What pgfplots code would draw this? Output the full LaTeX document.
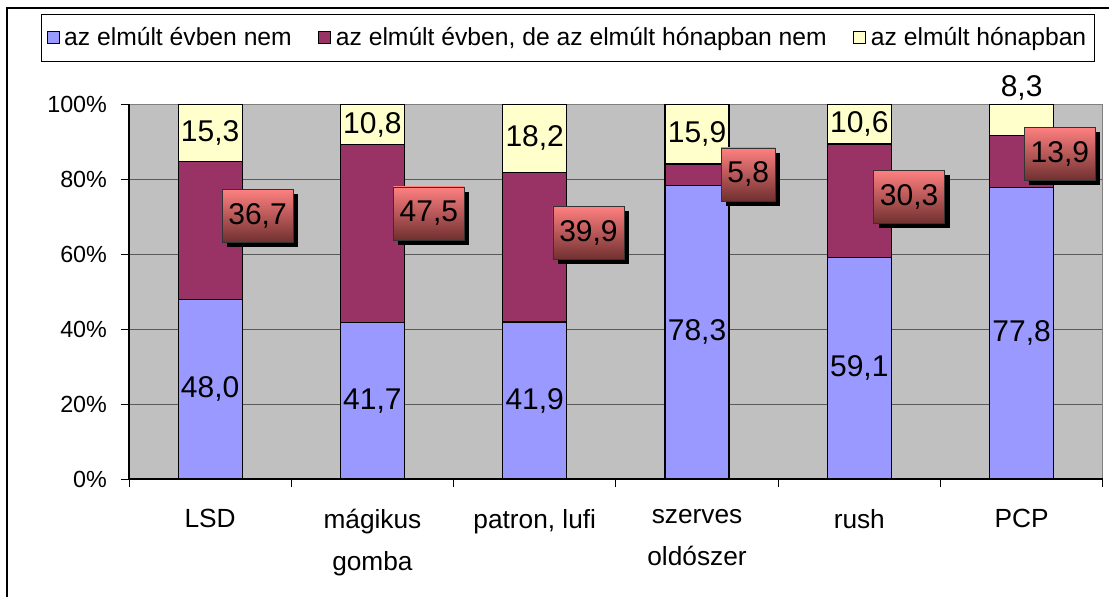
\documentclass[border=0pt]{standalone}
\usepackage{fontspec}
\setmainfont{Liberation Sans}
\usepackage{pgfplots}
\usepackage{pgfplotstable}
\pgfplotsset{compat=1.18}
\usetikzlibrary{shadows}
\definecolor{cblue}{RGB}{153,153,255}
\definecolor{cred}{RGB}{153,51,102}
\definecolor{cyel}{RGB}{255,255,204}
\definecolor{cgray}{RGB}{192,192,192}
\definecolor{cgrid}{RGB}{90,90,90}
\definecolor{cborder}{RGB}{128,128,128}
\definecolor{lbtop}{RGB}{255,128,128}
\definecolor{lbbot}{RGB}{112,48,48}
\pgfplotsset{sqleg/.style={legend image code/.code={\draw[##1, draw=black, line width=0.6pt] (0pt,-4.5pt) rectangle (9pt,4.5pt);}}}

\pgfplotstableread{
x blue red yellow lb lr ly yb xr yr yy
0 48.0 36.7 15.3 48,0 36,7 15,3 24.00 0.292 70.3 92.35
1 41.7 47.5 10.8 41,7 47,5 10,8 20.85 1.348 70.9 94.60
2 41.9 39.9 18.2 41,9 39,9 18,2 20.95 2.331 65.7 90.90
3 78.3 5.8 15.9 78,3 5,8 15,9 39.15 3.316 81.3 92.05
4 59.1 30.3 10.6 59,1 30,3 10,6 29.55 4.307 75.3 94.70
5 77.8 13.9 8.3 77,8 13,9 8,3 38.90 5.236 86.8 104.3
}\data

\begin{document}
\begin{tikzpicture}
\useasboundingbox (0,0) rectangle (831.75pt,447.75pt);
\draw[line width=1.2pt] (5.25pt,0pt) -- (5.25pt,441.75pt) -- (831.75pt,441.75pt);
\begin{axis}[
  at={(96.75pt,88.5pt)}, anchor=south west,
  scale only axis, width=730.3pt, height=281pt,
  xmin=-0.5, xmax=5.5, ymin=0, ymax=100,
  ybar stacked, bar width=48pt,
  axis background/.style={fill=cgray},
  axis line style={cborder, line width=0.6pt},
  ymajorgrids, grid style={cgrid, line width=0.6pt},
  xtick={-0.5,0.5,...,5.5},
  x tick label as interval,
  xticklabels={LSD,{mágikus\\gomba},{patron, lufi},{szerves\\oldószer},rush,PCP},
  ytick={0,20,40,60,80,100},
  yticklabels={0\%,20\%,40\%,60\%,80\%,100\%},
  tick align=outside, xtick pos=bottom, ytick pos=left,
  major tick length=6pt,
  tick style={black, line width=0.6pt},
  xticklabel style={font=\fontsize{19.7}{31.5}\selectfont, align=center, yshift=-13pt},
  yticklabel style={font=\fontsize{17.5}{21}\selectfont, xshift=-7pt},
  legend columns=3,
  legend cell align=left,
  legend style={at={(-0.0904,1.241)}, anchor=north west, draw=black, line width=0.6pt,
    font=\fontsize{18.5}{22}\selectfont, inner xsep=4pt, inner ysep=8pt,
    /tikz/every odd column/.append style={column sep=1.5pt},
    /tikz/every even column/.append style={column sep=18pt}},
  after end axis/.code={\draw[black, line width=0.8pt] (rel axis cs:0,1) -- (rel axis cs:0,0) -- (rel axis cs:1,0);},
]
\addplot[fill=cblue, draw=black, line width=0.9pt, sqleg] table[x=x,y=blue]{\data};
\addlegendentry{az elmúlt évben nem}
\addplot[fill=cred, draw=black, line width=0.9pt, sqleg] table[x=x,y=red]{\data};
\addlegendentry{az elmúlt évben, de az elmúlt hónapban nem}
\addplot[fill=cyel, draw=black, line width=0.9pt, sqleg] table[x=x,y=yellow]{\data};
\addlegendentry{az elmúlt hónapban}
\end{axis}
\begin{axis}[
  at={(96.75pt,88.5pt)}, anchor=south west,
  scale only axis, width=730.3pt, height=281pt,
  xmin=-0.5, xmax=5.5, ymin=0, ymax=100,
  hide axis, clip=false,
]
\addplot[draw=none, nodes near coords, point meta=explicit symbolic,
  every node near coord/.style={anchor=center, font=\fontsize{22.5}{26}\selectfont, text=black}]
  table[x=x,y=yb,meta=lb]{\data};
\addplot[draw=none, nodes near coords, point meta=explicit symbolic,
  every node near coord/.style={anchor=center, font=\fontsize{22.5}{26}\selectfont, text=black}]
  table[x=x,y=yy,meta=ly]{\data};
\addplot[draw=none, nodes near coords, point meta=explicit symbolic,
  every node near coord/.style={anchor=center, font=\fontsize{22.5}{26}\selectfont, text=black,
    top color=lbtop, bottom color=lbbot, draw=black!80, line width=0.5pt,
    inner xsep=4.7pt, minimum height=39.75pt,
    drop shadow={shadow xshift=3.75pt, shadow yshift=-3.75pt, opacity=1, fill=black}}]
  table[x=xr,y=yr,meta=lr]{\data};
\end{axis}
\end{tikzpicture}
\end{document}
